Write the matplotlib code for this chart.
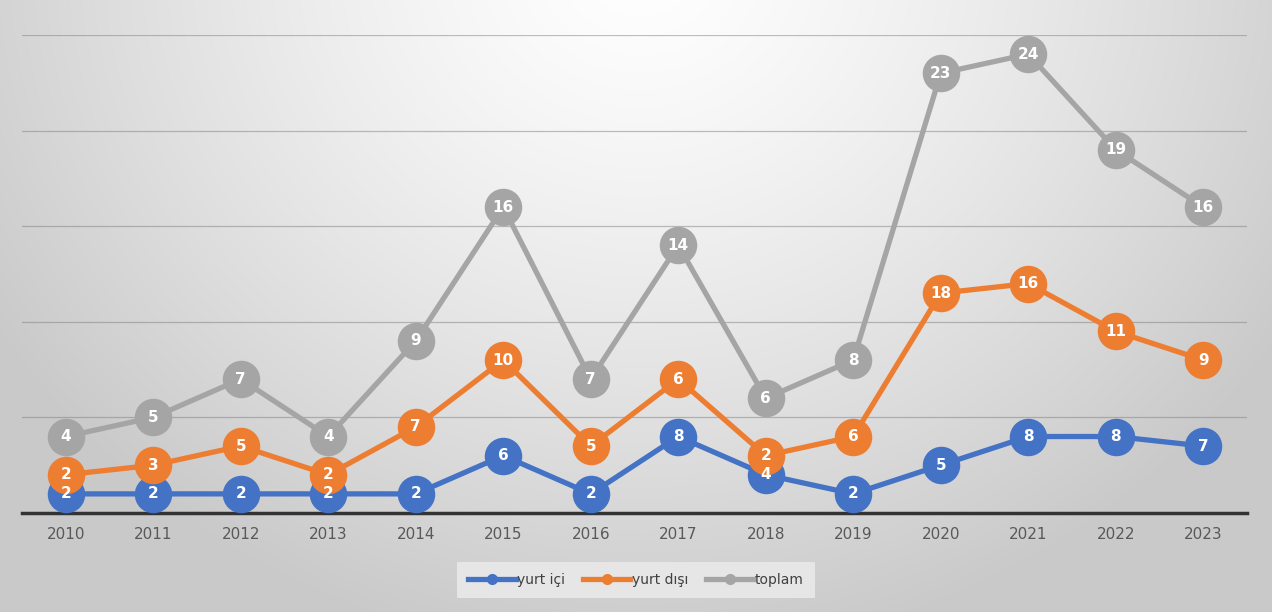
import numpy as np
import matplotlib
matplotlib.use("Agg")
import matplotlib.pyplot as plt
from matplotlib.lines import Line2D

years = ["2010", "2011", "2012", "2013", "2014", "2015", "2016",
         "2017", "2018", "2019", "2020", "2021", "2022", "2023"]
yurt_ici = [2, 2, 2, 2, 2, 6, 2, 8, 4, 2, 5, 8, 8, 7]
yurt_disi = [2, 3, 5, 2, 7, 10, 5, 6, 2, 6, 18, 16, 11, 9]
toplam = [4, 5, 7, 4, 9, 16, 7, 14, 6, 8, 23, 24, 19, 16]
series_names = ["yurt içi", "yurt dışı", "toplam"]
colors = ["#4472C4", "#ED7D31", "#A5A5A5"]

W, H = 1272, 612
fig = plt.figure(figsize=(W / 100, H / 100), dpi=100)

# radial gradient background
bg = fig.add_axes([0, 0, 1, 1], zorder=-10)
yy, xx = np.mgrid[0:H, 0:W]
d = np.sqrt(((xx - 640) / 760.0) ** 2 + ((yy + 40) / 700.0) ** 2)
d = np.clip(d, 0, 1)
v = 1.0 - 0.21 * d ** 1.3
img = np.dstack([v, v, v])
bg.imshow(img, aspect="auto", extent=[0, 1, 0, 1])
bg.axis("off")

x0, x1 = 22, 1247
y0, y1 = 513, 35
ax = fig.add_axes([x0 / W, 1 - y0 / H, (x1 - x0) / W, (y0 - y1) / H])
ax.set_facecolor("none")

x = np.arange(len(years))
data = [np.array(yurt_ici), np.array(yurt_disi), np.array(toplam)]
stacked = np.cumsum(np.vstack(data), axis=0)

for i in range(3):
    ax.plot(x, stacked[i], color=colors[i], lw=3.8, marker="o", ms=27,
            markeredgewidth=0, zorder=3 + i, solid_capstyle="round")
    for xi, yi, lab in zip(x, stacked[i], data[i]):
        ax.text(xi, yi, str(lab), ha="center", va="center", color="white",
                fontsize=11, fontweight="bold", zorder=10 + i)

ax.set_xlim(-0.5, len(years) - 0.5)
ax.set_ylim(0, 50)
ax.set_yticks([10, 20, 30, 40, 50])
ax.yaxis.grid(True, color="#808080", lw=0.9, alpha=0.5, zorder=0)
ax.tick_params(axis="y", left=False, labelleft=False)
ax.set_xticks(x)
ax.set_xticklabels(years, fontsize=11, color="#595959")
ax.tick_params(axis="x", length=0, pad=10)
for s in ["top", "right", "left"]:
    ax.spines[s].set_visible(False)
ax.spines["bottom"].set_color("#333333")
ax.spines["bottom"].set_linewidth(2.5)
ax.spines["bottom"].set_zorder(2)

handles = [Line2D([0], [0], color=c, lw=3.8, marker="o", ms=7) for c in colors]
leg = fig.legend(handles, series_names, loc="center", bbox_to_anchor=(636 / W, 1 - 580 / H),
                 ncol=3, frameon=True, fontsize=10, handlelength=3.4, handletextpad=0.1,
                 columnspacing=1.3, borderpad=0.5)
leg.get_frame().set_facecolor("#e6e6e6")
leg.get_frame().set_edgecolor("none")
leg.get_frame().set_alpha(1)
leg.get_frame().set_boxstyle("square")
for t in leg.get_texts():
    t.set_color("#404040")

fig.savefig("out.png", dpi=100)
